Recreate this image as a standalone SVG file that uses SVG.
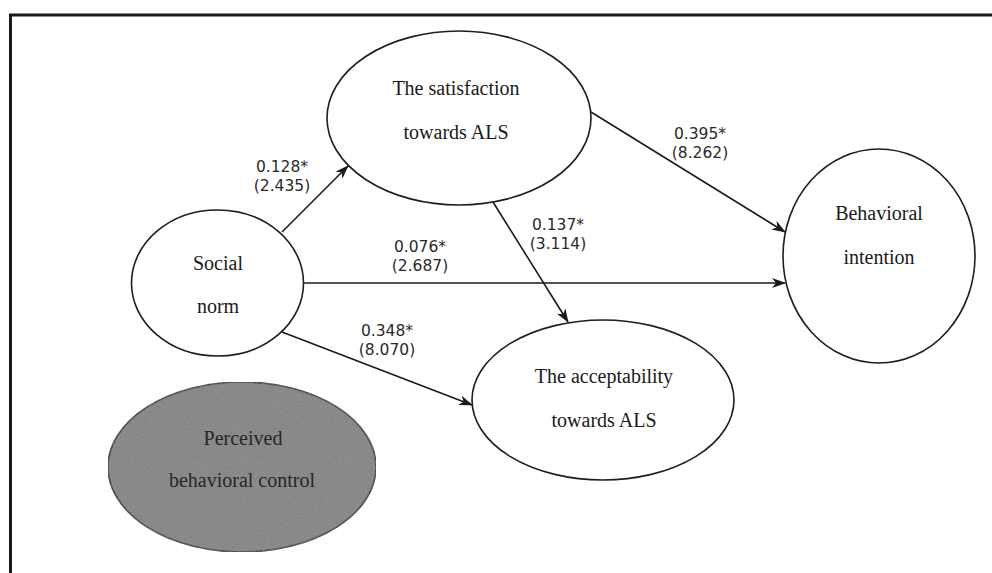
<svg xmlns="http://www.w3.org/2000/svg" width="992" height="573" viewBox="0 0 992 573">
  <defs>
    <marker id="arrow" viewBox="0 0 14 10" refX="13" refY="5" markerWidth="14" markerHeight="10" markerUnits="userSpaceOnUse" orient="auto">
      <path d="M0,0 L14,5 L0,10 L4,5 z" fill="#1a1a1a"/>
    </marker>
    <filter id="grain" x="0" y="0" width="100%" height="100%">
      <feTurbulence type="fractalNoise" baseFrequency="0.9" numOctaves="2" seed="3" result="noise"/>
      <feColorMatrix in="noise" type="matrix" values="0 0 0 0 0.5  0 0 0 0 0.5  0 0 0 0 0.5  0 0 0 0.35 0" result="tint"/>
      <feComposite in="tint" in2="SourceGraphic" operator="in" result="grainy"/>
      <feMerge>
        <feMergeNode in="SourceGraphic"/>
        <feMergeNode in="grainy"/>
      </feMerge>
    </filter>
  </defs>
  <style>
    .node { fill: #ffffff; stroke: #1e1e1e; stroke-width: 1.6; }
    .dark { fill: #7b7b7b; stroke: #1e1e1e; stroke-width: 1.6; }
    .name { font-family: "Liberation Serif", "Times New Roman", serif; font-size: 20px; fill: #1a1a1a; text-anchor: middle; }
    .name-dark { fill: #262626; }
    .coef { font-family: "DejaVu Sans", Verdana, sans-serif; font-size: 15.5px; fill: #2a2a2a; text-anchor: middle; }
    .edge { stroke: #1a1a1a; stroke-width: 1.6; fill: none; marker-end: url(#arrow); }
    .frame { stroke: #1a1a1a; stroke-width: 3; fill: none; }
  </style>

  <rect width="992" height="573" fill="#ffffff"/>

  <!-- outer frame: top rule and left rule -->
  <path class="frame" d="M10.5,573 V15 H992"/>

  <!-- connectors -->
  <g id="connectors">
    <line class="edge" x1="282" y1="232" x2="348" y2="166"/>
    <line class="edge" x1="591" y1="112" x2="785" y2="232"/>
    <line class="edge" x1="493" y1="202" x2="568" y2="322"/>
    <line class="edge" x1="303" y1="283" x2="785" y2="283"/>
    <line class="edge" x1="282" y1="332" x2="472" y2="405"/>

    <text class="coef" x="282" y="172">0.128*</text>
    <text class="coef" x="282" y="191">(2.435)</text>
    <text class="coef" x="700" y="139">0.395*</text>
    <text class="coef" x="700" y="158">(8.262)</text>
    <text class="coef" x="558" y="230">0.137*</text>
    <text class="coef" x="558" y="249">(3.114)</text>
    <text class="coef" x="420" y="252">0.076*</text>
    <text class="coef" x="420" y="271">(2.687)</text>
    <text class="coef" x="387" y="336">0.348*</text>
    <text class="coef" x="387" y="355">(8.070)</text>
  </g>

  <g id="satisfaction">
    <ellipse class="node" cx="459" cy="118" rx="132" ry="87"/>
    <text class="name" x="456" y="95">The satisfaction</text>
    <text class="name" x="456" y="139">towards ALS</text>
  </g>

  <g id="social-norm">
    <ellipse class="node" cx="217.5" cy="283" rx="86" ry="73"/>
    <text class="name" x="218" y="270">Social</text>
    <text class="name" x="218" y="313">norm</text>
  </g>

  <g id="behavioral-intention">
    <ellipse class="node" cx="879" cy="256" rx="96" ry="107"/>
    <text class="name" x="879" y="220">Behavioral</text>
    <text class="name" x="879" y="264">intention</text>
  </g>

  <g id="acceptability">
    <ellipse class="node" cx="603" cy="400" rx="131" ry="80"/>
    <text class="name" x="604" y="383">The acceptability</text>
    <text class="name" x="604" y="427">towards ALS</text>
  </g>

  <g id="perceived-control">
    <ellipse class="dark" cx="242" cy="467" rx="134" ry="85" filter="url(#grain)"/>
    <text class="name name-dark" x="243" y="445">Perceived</text>
    <text class="name name-dark" x="242" y="487">behavioral control</text>
  </g>
</svg>
